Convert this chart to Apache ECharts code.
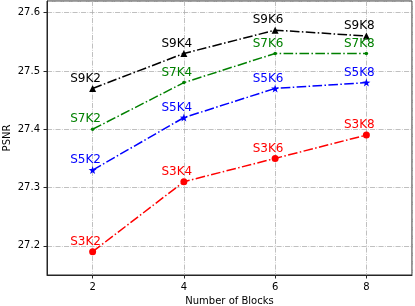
<!DOCTYPE html>
<html><head><meta charset="utf-8">
<script src="https://cdn.jsdelivr.net/npm/echarts@6/dist/echarts.min.js"></script>
<style>html,body{margin:0;padding:0;background:#fff}#c{width:415px;height:306px}</style>
</head><body><div id="c"></div>
<script>
var blocks = [2, 4, 6, 8];
var s9 = [27.47, 27.53, 27.57, 27.56];
var s7 = [27.40, 27.48, 27.53, 27.53];
var s5 = [27.33, 27.42, 27.47, 27.48];
var s3 = [27.19, 27.31, 27.35, 27.39];
var labels9 = ['S9K2', 'S9K4', 'S9K6', 'S9K8'];
var labels7 = ['S7K2', 'S7K4', 'S7K6', 'S7K8'];
var labels5 = ['S5K2', 'S5K4', 'S5K6', 'S5K8'];
var labels3 = ['S3K2', 'S3K4', 'S3K6', 'S3K8'];
var xName = 'Number of Blocks';
var yName = 'PSNR';

var FONT = 'DejaVu Sans';
var STAR = 'path://M0,-10 L2.35,-3.24 L9.51,-3.09 L3.8,1.24 L5.88,8.09 L0,4 L-5.88,8.09 L-3.8,1.24 L-9.51,-3.09 L-2.35,-3.24 Z';

function mk(vals, names, color, symbol, size) {
  return {
    type: 'line',
    data: blocks.map(function (b, i) { return {value: [b, vals[i]], name: names[i]}; }),
    symbol: symbol,
    symbolSize: size,
    showAllSymbol: true,
    lineStyle: {color: color, width: 1.5, type: [9.6, 2.4, 1.5, 2.4]},
    itemStyle: {color: color, borderWidth: 0},
    label: {
      show: true, position: 'inside', offset: [-7, -10],
      formatter: function (p) { return p.name; },
      color: color, fontFamily: FONT, fontSize: 12
    },
    emphasis: {disabled: true},
    animation: false
  };
}

var gridLine = {show: true, lineStyle: {color: '#b0b0b0', width: 0.8, type: [5.1, 1.3, 0.8, 1.3]}};
var chart = echarts.init(document.getElementById('c'));
chart.setOption({
  animation: false,
  grid: {left: 47, right: 3, top: 1, bottom: 31, containLabel: false, outerBoundsMode: 'none', show: true, borderColor: '#262626', borderWidth: 1, backgroundColor: 'transparent'},
  graphic: [{
    type: 'text', x: 7.5, y: 138, rotation: Math.PI / 2, silent: true,
    style: {text: yName, fontFamily: FONT, fontSize: 10, fill: '#000', align: 'center', verticalAlign: 'middle'}
  }],
  xAxis: {
    type: 'value', min: 1, max: 9, splitNumber: 4,
    name: xName, nameLocation: 'middle', nameGap: 19,
    nameTextStyle: {fontFamily: FONT, fontSize: 10, color: '#000'},
    axisLine: {show: true, lineStyle: {color: '#262626', width: 1}},
    axisTick: {show: true, length: 3.5, lineStyle: {color: '#262626'}},
    axisLabel: {showMinLabel: false, showMaxLabel: false, margin: 7, fontFamily: FONT, fontSize: 10, color: '#000'},
    splitLine: gridLine
  },
  yAxis: {
    type: 'value', min: 27.15, max: 27.62, splitNumber: 5,
    axisLine: {show: true, lineStyle: {color: '#262626', width: 1}},
    axisTick: {show: true, length: 3.5, lineStyle: {color: '#262626'}},
    axisLabel: {showMinLabel: false, showMaxLabel: false, margin: 7, fontFamily: FONT, fontSize: 10, color: '#000'},
    splitLine: gridLine
  },
  series: [
    mk(s9, labels9, '#000000', 'triangle', 7),
    mk(s7, labels7, '#008000', 'circle', 3.5),
    mk(s5, labels5, '#0000ff', STAR, 8),
    mk(s3, labels3, '#ff0000', 'circle', 7)
  ]
});
</script></body></html>
